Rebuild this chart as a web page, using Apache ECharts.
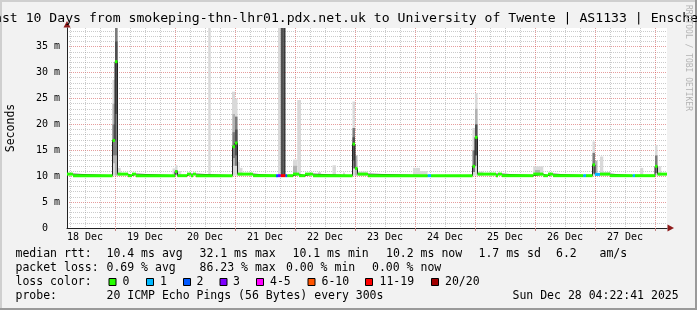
<!DOCTYPE html>
<html>
<head>
<meta charset="utf-8">
<script src="https://cdn.jsdelivr.net/npm/echarts@6/dist/echarts.min.js"></script>
<style>
html,body{margin:0;padding:0;background:#f2f2f2;}
#c{width:697px;height:310px;}
</style>
</head>
<body>
<div id="c"></div>
<script>
// ---------- DATA (hours counted from 18 Dec 00:00) ----------
const xStartHour = 4.8;
const xEndHour = 244.8;
const yMax = 38.6; // ms

const dayLabels = ['18 Dec','19 Dec','20 Dec','21 Dec','22 Dec','23 Dec','24 Dec','25 Dec','26 Dec','27 Dec'];
const dayLabelHours = [12,36,60,84,108,132,156,180,204,228];
const dayBoundaryHours = [24,48,72,96,120,144,168,192,216,240];

const yTicks = [0,5,10,15,20,25,30,35];
const yTickLabels = ['0  ','5 m','10 m','15 m','20 m','25 m','30 m','35 m'];

// median rtt (ms) as steps: [startHour, endHour, median, lostPings]
const medianSegments = [
  [4.8, 7.2, 10.4, 0],
  [7.2, 23, 10.1, 0],
  [23, 24, 16.9, 0],
  [24, 25, 32.1, 0],
  [25, 29.2, 10.4, 0],
  [29.2, 30.8, 10.1, 0],
  [30.8, 32.4, 10.4, 0],
  [32.4, 48, 10.1, 0],
  [48, 49, 10.9, 0],
  [49, 52.8, 10.1, 0],
  [52.8, 54.4, 10.4, 0],
  [54.4, 55.2, 10.1, 0],
  [55.2, 56.4, 10.4, 0],
  [56.4, 71, 10.1, 0],
  [71, 72, 15.7, 0],
  [72, 73, 16.4, 0],
  [73, 79.2, 10.4, 0],
  [79.2, 88.4, 10.1, 0],
  [88.4, 89.2, 10.1, 2],
  [89.2, 90.3, 10.1, 3],
  [90.3, 92.2, 10.1, 17],
  [92.2, 92.9, 10.1, 2],
  [92.9, 95.2, 10.1, 0],
  [95.2, 97.6, 10.4, 0],
  [97.6, 100, 10.1, 0],
  [100, 103.2, 10.4, 0],
  [103.2, 119, 10.1, 0],
  [119, 120, 16.2, 0],
  [120, 121, 11.5, 0],
  [121, 125.2, 10.4, 0],
  [125.2, 149.1, 10.1, 0],
  [149.1, 150.4, 10.1, 1],
  [150.4, 167, 10.1, 0],
  [167, 168, 11.9, 0],
  [168, 169, 17.5, 0],
  [169, 176.4, 10.4, 0],
  [176.4, 177.2, 10.1, 0],
  [177.2, 178.8, 10.4, 0],
  [178.8, 191.3, 10.1, 0],
  [191.3, 195.3, 10.4, 0],
  [195.3, 197.2, 10.1, 0],
  [197.2, 199.2, 10.4, 0],
  [199.2, 211.3, 10.1, 0],
  [211.3, 212.4, 10.1, 1],
  [212.4, 215, 10.1, 0],
  [215, 216, 12.2, 0],
  [216, 218, 10.35, 1],
  [218, 222, 10.4, 0],
  [222, 231.1, 10.1, 0],
  [231.1, 232, 10.1, 1],
  [232, 240, 10.1, 0],
  [240, 241, 11.9, 0],
  [241, 244.8, 10.4, 0]
];

// smoke (ping spread): [startHour, endHour, low ms, high ms, density 1..5]
const smoke = [
  [23,24,10.1,28.6,1],[23,24,12.5,24,2],[23,24,14,20,3],
  [24,25,10.1,38.6,2],[24,25,14,38.6,3],[24,25,22,36,4],
  [25,26.3,10.1,11.6,1],
  [47,48,10.1,11.5,1],[48,49,10.1,12.1,1],[48,49,10.3,11.2,3],[49,50.5,10.1,11.0,1],
  [61.3,62.3,10.3,38.6,1],
  [70.8,72,10.1,26.3,1],[71,72,12,22,2],[71,72,13.5,18.5,3],
  [72,73,10.1,25,1],[72,73,12,21.5,3],[72,73,14,19,4],
  [73,74,10.1,12.8,1],[74,75,10.1,11.6,1],
  [89.2,90.3,10.1,38.6,1],
  [90.3,91.3,10.1,38.6,4],[91.3,92.2,10.1,38.6,5],
  [95.2,96.8,10.1,13.2,1],[95.2,96.8,10.4,12,2],
  [96.9,98.4,10.1,24.7,1],
  [105.2,106.4,10.1,10.8,1],[111,112.4,10.1,12.1,1],[115.2,116,10.1,10.7,1],
  [119,120,10.1,24.4,1],[119,120,11.5,19.3,3],[119,120,13,17.5,4],
  [120,121,10.1,14,2],
  [121,124.7,10.1,10.9,1],
  [143.2,146,10.1,11.6,1],[146,149,10.1,11.0,1],
  [167,168,10.1,19.3,1],[167,168,10.8,15,3],
  [168,169,10.1,26,1],[168,169,12,23,2],[168,169,14,20,4],
  [169,171.3,10.1,10.9,1],
  [191.3,195.3,10.1,11.9,1],[192,194,10.2,11.2,2],
  [215,216,10.1,16.7,1],[215,216,10.5,14.5,3],
  [216,217,10.1,13,2],
  [218,219.3,10.1,13.8,1],[219.3,222,10.1,10.8,1],
  [234,235.3,10.1,11.6,1],
  [240,241,10.1,16,1],[240,241,10.6,14,3],
  [241,242.5,10.1,11.9,1]
];

const lossLabels = ['0','1','2','3','4-5','6-10','11-19','20/20'];
const lossUpper = [0,1,2,3,5,10,19,20];
const lossColors = ['#26ff00','#00b8ff','#0059ff','#7e00ff','#ff00ff','#ff5500','#ff0000','#a10000'];

const titleText = 'Last 10 Days from smokeping-thn-lhr01.pdx.net.uk to University of Twente | AS1133 | Enschede';
const rttTexts = ['median rtt:','10.4 ms avg','32.1 ms max','10.1 ms min','10.2 ms now','1.7 ms sd','6.2','am/s'];
const lossTexts = ['packet loss:','0.69 % avg','86.23 % max','0.00 % min','0.00 % now'];
const probeTexts = ['probe:','20 ICMP Echo Pings (56 Bytes) every 300s','Sun Dec 28 04:22:41 2025'];

// ---------- LAYOUT / STYLE ----------
const MONO = 'DejaVu Sans Mono';
const rttX = [15.5,106.5,199.5,292.5,386,478.5,556,599.5];
const lossX = [15.5,106.5,199.5,286,372];
const probeX = [15.5,106.5,512.5];
const boxX = [108.5,146,183,219.5,256,307.5,365,431];
const boxLabelX = [122.5,160,196.5,233,270,321.5,379.5,445];
const smokeShade = ['#ffffff','#d9d9d9','#b2b2b2','#7c7c7c','#505050','#3a3a3a'];

function lossColor(n){
  for (let i = 0; i < lossUpper.length; i++) if (n <= lossUpper[i]) return lossColors[i];
  return lossColors[lossColors.length-1];
}

const minorHours = [];
for (let d = 0; d < 10; d++) [6,12,18].forEach(o => { const h = d*24+o; if (h > xStartHour && h < xEndHour) minorHours.push(h); });

const medianLine = [];
medianSegments.forEach(s => { medianLine.push([s[0], s[2]], [s[1], s[2]]); });

const graphics = [];
// frame
graphics.push({type:'rect', shape:{x:0,y:0,width:697,height:2}, style:{fill:'#cfcfcf'}, silent:true});
graphics.push({type:'rect', shape:{x:0,y:0,width:2,height:310}, style:{fill:'#cfcfcf'}, silent:true});
graphics.push({type:'rect', shape:{x:0,y:308,width:697,height:2}, style:{fill:'#9a9a9a'}, silent:true});
graphics.push({type:'rect', shape:{x:695,y:0,width:2,height:310}, style:{fill:'#9a9a9a'}, silent:true});
// arrows
graphics.push({type:'polygon', shape:{points:[[63.5,27.5],[70.5,27.5],[67,21]]}, style:{fill:'#8e1b1b'}, silent:true});
graphics.push({type:'polygon', shape:{points:[[667.5,224.5],[667.5,231.5],[674,228]]}, style:{fill:'#8e1b1b'}, silent:true});
// title
graphics.push({type:'text', x:350, y:19, style:{text:titleText, font:'13.15px "'+MONO+'"', fill:'#000', align:'center', verticalAlign:'middle'}, silent:true});
// y axis name
graphics.push({type:'text', x:11, y:128, rotation:Math.PI/2, style:{text:'Seconds', font:'11.5px "'+MONO+'"', fill:'#000', align:'center', verticalAlign:'middle'}, silent:true});
// watermark
graphics.push({type:'text', x:688.5, y:5, rotation:-Math.PI/2, style:{text:'RRDTOOL / TOBI OETIKER', font:'8px "'+MONO+'"', fill:'#b4b4b4', align:'left', verticalAlign:'middle'}, silent:true});
function addLine(texts, xs, y){
  texts.forEach((t,i) => graphics.push({type:'text', x:xs[i], y:y, style:{text:t, font:'11.5px "'+MONO+'"', fill:'#000', align:'left', verticalAlign:'middle'}, silent:true}));
}
addLine(rttTexts, rttX, 254.5);
addLine(lossTexts, lossX, 268.2);
addLine(['loss color:'], [15.5], 282);
lossLabels.forEach((l,i) => {
  graphics.push({type:'rect', shape:{x:boxX[i]+0.5, y:278.5, width:7, height:7}, style:{fill:lossColors[i], stroke:'#000', lineWidth:1}, silent:true});
  graphics.push({type:'text', x:boxLabelX[i], y:282, style:{text:l, font:'11.5px "'+MONO+'"', fill:'#000', align:'left', verticalAlign:'middle'}, silent:true});
});
addLine(probeTexts, probeX, 295.7);

const redGrid = {color:'rgba(205,60,60,0.5)', type:[1,1], width:1};
const grayGrid = {color:'rgba(140,140,140,0.45)', type:[1,1], width:1};

const option = {
  animation: false,
  backgroundColor: '#f2f2f2',
  grid: {left:67, top:28, width:600, height:200, show:true, backgroundColor:'#ffffff', borderWidth:0},
  xAxis: [
    {
      type:'value', min:xStartHour, max:xEndHour,
      axisLine:{show:true, onZero:false, lineStyle:{color:'#222', width:1}},
      axisTick:{show:true, customValues:dayBoundaryHours, length:3, lineStyle:{color:'#c08080'}},
      axisLabel:{customValues:dayLabelHours, formatter:(v)=>dayLabels[dayLabelHours.indexOf(v)] || '', fontFamily:MONO, fontSize:10, color:'#000', margin:4},
      splitLine:{show:true, lineStyle:redGrid}
    },
    {
      type:'value', min:xStartHour, max:xEndHour, position:'bottom',
      axisLine:{show:false}, axisLabel:{show:false},
      axisTick:{show:false, customValues:minorHours},
      splitLine:{show:true, lineStyle:grayGrid}
    }
  ],
  yAxis: {
    type:'value', min:0, max:yMax, interval:5,
    axisLine:{show:true, onZero:false, lineStyle:{color:'#222', width:1}},
    axisTick:{show:false, customValues:yTicks},
    axisLabel:{customValues:yTicks, formatter:(v)=>yTickLabels[yTicks.indexOf(v)] || '', fontFamily:MONO, fontSize:10, color:'#000', margin:7},
    splitLine:{show:true, lineStyle:redGrid},
    minorTick:{show:false, splitNumber:5},
    minorSplitLine:{show:true, lineStyle:grayGrid}
  },
  series: [
    {
      type:'custom', xAxisIndex:0, yAxisIndex:0, data:smoke, silent:true, z:2, clip:true,
      renderItem:(params, api) => {
        const p0 = api.coord([api.value(0), api.value(3)]);
        const p1 = api.coord([api.value(1), api.value(2)]);
        return {type:'rect', shape:{x:p0[0], y:p0[1], width:p1[0]-p0[0], height:p1[1]-p0[1]}, style:{fill:smokeShade[api.value(4)]}};
      }
    },
    {
      type:'line', xAxisIndex:0, yAxisIndex:0, data:medianLine, symbol:'none', silent:true, z:3,
      lineStyle:{color:'#202020', width:1}
    },
    {
      type:'custom', xAxisIndex:0, yAxisIndex:0, data:medianSegments, silent:true, z:4, clip:true,
      renderItem:(params, api) => {
        const p0 = api.coord([api.value(0), api.value(2)]);
        const p1 = api.coord([api.value(1), api.value(2)]);
        return {type:'rect', shape:{x:p0[0], y:p0[1]-1.5, width:p1[0]-p0[0], height:3}, style:{fill:lossColor(api.value(3))}};
      }
    }
  ],
  graphic: graphics
};

const chart = echarts.init(document.getElementById('c'), null, {renderer:'canvas', width:697, height:310});
chart.setOption(option);
</script>
</body>
</html>
